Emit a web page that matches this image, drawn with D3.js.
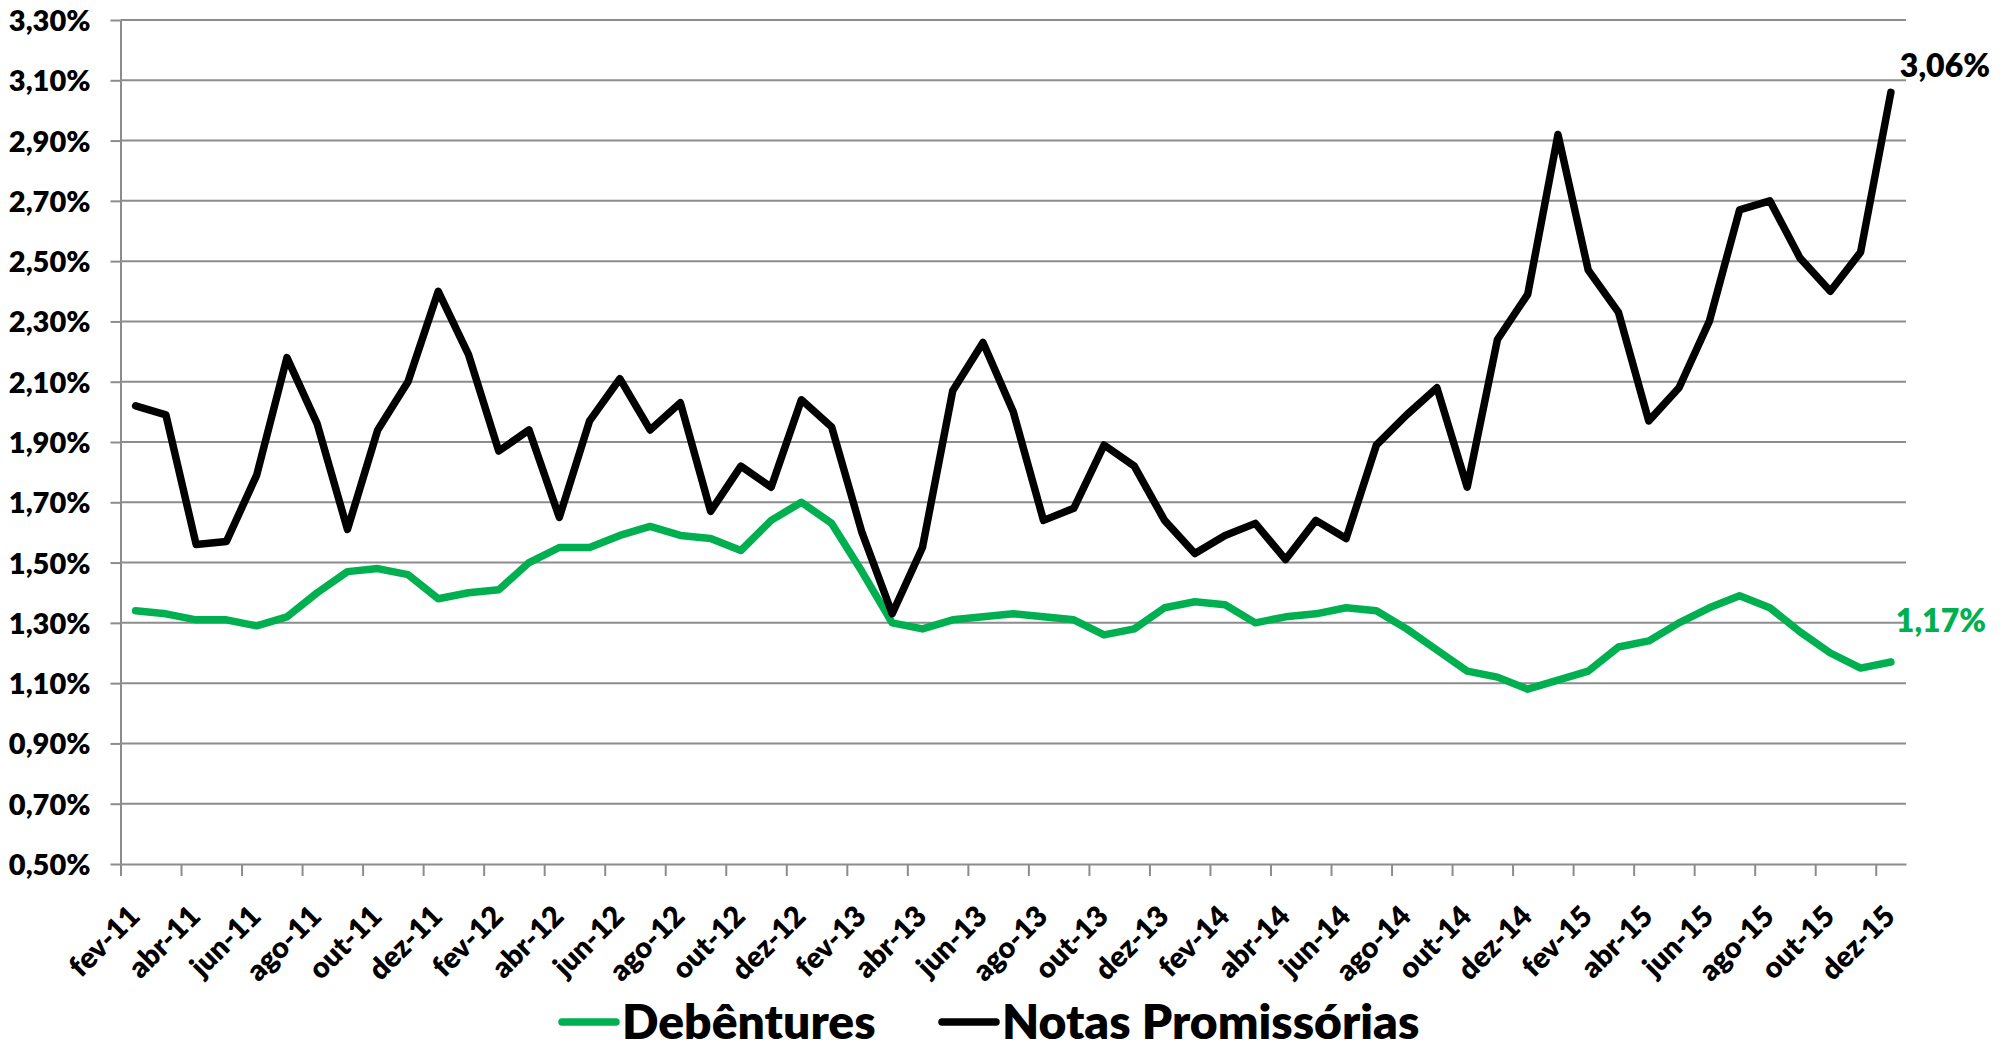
<!DOCTYPE html>
<html>
<head>
<meta charset="utf-8">
<script src="https://cdn.jsdelivr.net/npm/d3@7"></script>
<style>
  html, body { margin: 0; padding: 0; background: #fff; }
  svg { display: block; font-family: Lato, "Open Sans", sans-serif; font-weight: 800; }
</style>
</head>
<body>
<div id="chart"></div>
<script>
// months fev-11 .. dez-15
const monthNames = ["jan", "fev", "mar", "abr", "mai", "jun", "jul", "ago", "set", "out", "nov", "dez"];
const months = [];
for (let yr = 11; yr <= 15; yr++) {
  for (let m = 0; m < 12; m++) {
    if (yr === 11 && m === 0) continue;
    months.push(monthNames[m] + "-" + yr);
  }
}

// values in %
const debentures = [
  1.34, 1.33, 1.31, 1.31, 1.29, 1.32, 1.40, 1.47, 1.48, 1.46,
  1.38, 1.40, 1.41, 1.50, 1.55, 1.55, 1.59, 1.62, 1.59, 1.58,
  1.54, 1.64, 1.70, 1.63, 1.47, 1.30, 1.28, 1.31, 1.32, 1.33,
  1.32, 1.31, 1.26, 1.28, 1.35, 1.37, 1.36, 1.30, 1.32, 1.33,
  1.35, 1.34, 1.28, 1.21, 1.14, 1.12, 1.08, 1.11, 1.14, 1.22,
  1.24, 1.30, 1.35, 1.39, 1.35, 1.27, 1.20, 1.15, 1.17
];
const notas = [
  2.02, 1.99, 1.56, 1.57, 1.79, 2.18, 1.96, 1.61, 1.94, 2.10,
  2.40, 2.19, 1.87, 1.94, 1.65, 1.97, 2.11, 1.94, 2.03, 1.67,
  1.82, 1.75, 2.04, 1.95, 1.60, 1.33, 1.55, 2.07, 2.23, 2.00,
  1.64, 1.68, 1.89, 1.82, 1.64, 1.53, 1.59, 1.63, 1.51, 1.64,
  1.58, 1.89, 1.99, 2.08, 1.75, 2.24, 2.39, 2.92, 2.47, 2.33,
  1.97, 2.08, 2.30, 2.67, 2.70, 2.51, 2.40, 2.53, 3.06
];
const yTicks = [0.5, 0.7, 0.9, 1.1, 1.3, 1.5, 1.7, 1.9, 2.1, 2.3, 2.5, 2.7, 2.9, 3.1, 3.3];
const seriesNames = ["Debêntures", "Notas Promissórias"];
const seriesColors = ["#00B050", "#000000"];

const width = 2015, height = 1050;
const margin = { top: 20, right: 109, bottom: 186, left: 120.5 };

const ptBR = d3.formatLocale({ decimal: ",", thousands: ".", grouping: [3], currency: ["R$", ""] });
const fmt = v => ptBR.format(".2f")(v) + "%";

const svg = d3.select("#chart").append("svg")
  .attr("width", width)
  .attr("height", height);

svg.append("rect").attr("width", width).attr("height", height).attr("fill", "#fff");

const x = d3.scaleBand()
  .domain(months)
  .range([margin.left, width - margin.right])
  .paddingInner(0).paddingOuter(0);

// linear helper for category boundaries (tick marks between categories)
const xb = d3.scaleLinear()
  .domain([0, months.length])
  .range([margin.left, width - margin.right]);

const y = d3.scaleLinear()
  .domain([0.5, 3.3])
  .range([height - margin.bottom, margin.top]);

const cx = d => x(d) + x.bandwidth() / 2;

// gridlines
svg.append("g")
  .selectAll("line")
  .data(yTicks.slice(1))
  .enter()
  .append("line")
  .attr("x1", margin.left)
  .attr("x2", width - margin.right)
  .attr("y1", d => y(d))
  .attr("y2", d => y(d))
  .attr("stroke", "#8c8c8c")
  .attr("stroke-width", 2);

// y axis
const yAxis = svg.append("g")
  .attr("transform", `translate(${margin.left},0)`)
  .call(d3.axisLeft(y).tickValues(yTicks).tickSize(10).tickSizeOuter(0).tickPadding(20).tickFormat(fmt));
yAxis.select(".domain").attr("stroke", "#8c8c8c").attr("stroke-width", 2);
yAxis.selectAll(".tick line").attr("stroke", "#8c8c8c").attr("stroke-width", 2);
yAxis.selectAll(".tick text")
  .attr("fill", "#000")
  .style("font-size", "29px")
  .style("font-family", "Lato, sans-serif")
  .style("font-weight", "800")
  .attr("dy", "0.36em");

// x axis (tick marks at category boundaries, every 2 months)
const xAxis = svg.append("g")
  .attr("transform", `translate(0,${height - margin.bottom})`)
  .call(d3.axisBottom(xb)
    .tickValues(d3.range(0, months.length, 2))
    .tickSize(12).tickSizeOuter(0).tickFormat(""));
xAxis.select(".domain").attr("stroke", "#8c8c8c").attr("stroke-width", 2);
xAxis.selectAll(".tick line").attr("stroke", "#8c8c8c").attr("stroke-width", 2);

// rotated month labels
svg.append("g")
  .selectAll("text")
  .data(months.filter((d, i) => i % 2 === 0))
  .enter()
  .append("text")
  .attr("transform", d => `translate(${cx(d) + 6},${height - margin.bottom + 54}) rotate(-45)`)
  .attr("text-anchor", "end")
  .attr("fill", "#000")
  .style("font-size", "29px")
  .text(d => d);

// lines
const line = d3.line()
  .x((d, i) => cx(months[i]))
  .y(d => y(d));

[debentures, notas].forEach((vals, k) => {
  svg.append("path")
    .datum(vals)
    .attr("fill", "none")
    .attr("stroke", seriesColors[k])
    .attr("stroke-width", 7.5)
    .attr("stroke-linejoin", "round")
    .attr("stroke-linecap", "round")
    .attr("d", line);
});

// end labels
const last = months.length - 1;
svg.append("text")
  .attr("x", cx(months[last]) + 9)
  .attr("y", y(notas[last]) - 15)
  .attr("fill", "#000")
  .style("font-size", "32px")
  .text(fmt(notas[last]));

svg.append("text")
  .attr("x", cx(months[last]) + 5)
  .attr("y", y(debentures[last]) - 30)
  .attr("fill", "#00B050")
  .style("font-size", "32px")
  .text(fmt(debentures[last]));

// legend
const legendY = 1022;
const legendItems = [
  { name: seriesNames[0], color: seriesColors[0], x: 562 },
  { name: seriesNames[1], color: seriesColors[1], x: 942 }
];
const lg = svg.append("g").selectAll("g")
  .data(legendItems)
  .enter()
  .append("g")
  .attr("transform", d => `translate(${d.x},${legendY})`);

lg.append("line")
  .attr("x1", 0).attr("x2", 54)
  .attr("stroke", d => d.color)
  .attr("stroke-width", 7.5)
  .attr("stroke-linecap", "round");

lg.append("text")
  .attr("x", 60)
  .attr("dy", "0.36em")
  .attr("fill", "#000")
  .style("font-size", "48px")
  .text(d => d.name);
</script>
</body>
</html>
